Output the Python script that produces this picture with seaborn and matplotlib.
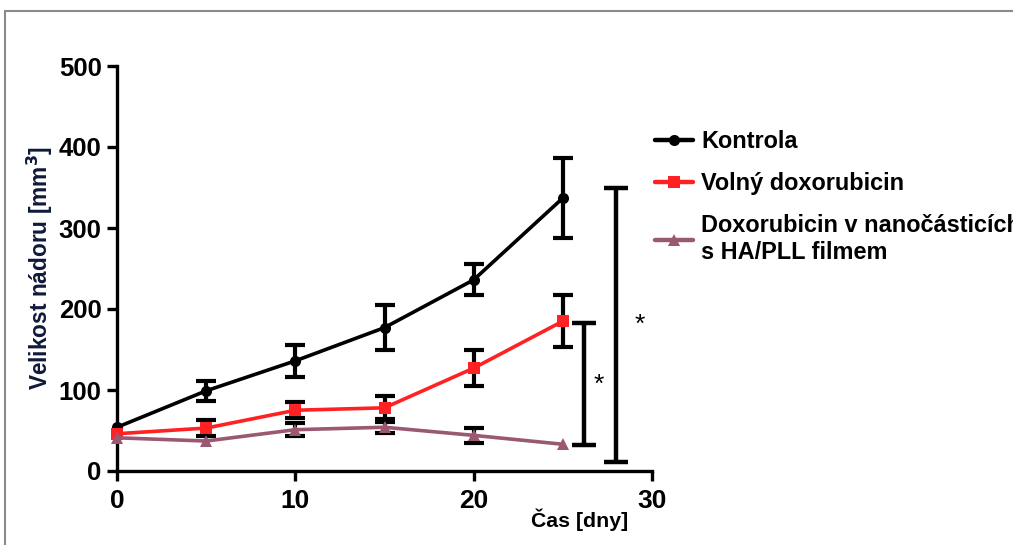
import numpy as np
import pandas as pd
import seaborn as sns
import matplotlib.pyplot as plt
from matplotlib.lines import Line2D

# Tumour volume over time (mean ± error)
days = [0, 5, 10, 15, 20, 25]
kontrola = [54, 99, 136, 177, 236, 337]
kontrola_err = [0, 12, 20, 28, 19, 49]
volny = [46, 53, 75, 78, 127, 185]
volny_err = [0, 10, 10, 14, 22, 32]
nano = [41, 37, 51, 54, 44, 33]
nano_err = [0, 0, 8, 7, 9, 0]

series_names = ["Kontrola", "Volný doxorubicin",
                "Doxorubicin v nanočásticích\ns HA/PLL filmem"]
series_colors = ["#000000", "#ff2222", "#9a5872"]
series_markers = ["o", "s", "^"]

# Significance brackets
sig_x = [26.2, 28.0]
sig_low = [32, 11]
sig_high = [183, 349]
star_x = [27.0, 29.3]
star_y = [106, 181]

x_ticks = [0, 10, 20, 30]
y_ticks = [0, 100, 200, 300, 400, 500]

df = pd.DataFrame({
    "day": days * 3,
    "volume": kontrola + volny + nano,
    "group": [series_names[0]] * 6 + [series_names[1]] * 6 + [series_names[2]] * 6,
})

sns.set_theme(style="white")
plt.rcParams["font.family"] = ["Liberation Sans", "DejaVu Sans"]
plt.rcParams["font.weight"] = "bold"
plt.rcParams["text.color"] = "black"

fig = plt.figure(figsize=(10.13, 5.45), dpi=100)
ax = fig.add_axes([117 / 1013, 1 - 471 / 545, 535 / 1013, 405 / 545])

# error bars underneath the lines (only where an error was measured)
for y, e in [(kontrola, kontrola_err), (volny, volny_err), (nano, nano_err)]:
    x_arr, y_arr, e_arr = np.array(days), np.array(y), np.array(e)
    keep = e_arr > 0
    ax.errorbar(x_arr[keep], y_arr[keep], yerr=e_arr[keep], fmt="none",
                ecolor="black", elinewidth=3, capsize=7, capthick=3,
                zorder=1, clip_on=False)

sns.lineplot(data=df, x="day", y="volume", hue="group", style="group",
             palette=dict(zip(series_names, series_colors)),
             markers=dict(zip(series_names, series_markers)), dashes=False,
             linewidth=2.6, markersize=8, markeredgewidth=0, ax=ax,
             legend=False, zorder=3)
for ln in ax.lines:
    ln.set_clip_on(False)

# significance brackets and stars
ax.errorbar(sig_x, [(a + b) / 2 for a, b in zip(sig_low, sig_high)],
            yerr=[(b - a) / 2 for a, b in zip(sig_low, sig_high)],
            fmt="none", ecolor="black", elinewidth=3.2, capsize=8.5,
            capthick=3.2, clip_on=False)
for sx, sy in zip(star_x, star_y):
    ax.text(sx, sy, "*", fontsize=19, fontweight="normal", ha="center",
            va="center", clip_on=False)

ax.set_xlim(0, 30)
ax.set_ylim(0, 500)
ax.set_xticks(x_ticks)
ax.set_yticks(y_ticks)
ax.set_xticklabels([str(t) for t in x_ticks], fontsize=19, fontweight="bold")
ax.set_yticklabels([str(t) for t in y_ticks], fontsize=18.5, fontweight="bold")

sns.despine(ax=ax)
for side in ["left", "bottom"]:
    ax.spines[side].set_linewidth(2.4)
    ax.spines[side].set_color("black")
ax.tick_params(axis="both", direction="out", length=7, width=2.4,
               color="black", labelcolor="black", left=True, bottom=True,
               pad=4)
ax.tick_params(axis="x", pad=6)

ax.set_ylabel("Velikost nádoru [mm$^\\mathbf{3}$]", fontsize=16.3,
              fontweight="bold", color="#0f1a3a", labelpad=3)
ax.set_xlabel("Čas [dny]", fontsize=15.3, fontweight="bold", color="black")
ax.xaxis.set_label_coords(0.865, -0.092)

handles = [Line2D([0], [0], color=c, marker=m, lw=3.2, markersize=8,
                  markeredgewidth=0)
           for c, m in zip(series_colors, series_markers)]
leg = fig.legend(handles, series_names, loc="upper left",
                 bbox_to_anchor=(655 / 1013, 1 - 130 / 545), frameon=False,
                 prop={"weight": "bold", "size": 16.9}, handlelength=1.62,
                 handletextpad=0.36, labelspacing=0.8, borderpad=0,
                 borderaxespad=0)
for t in leg.get_texts():
    t.set_linespacing(1.25)

# outer frame
fig.add_artist(Line2D([5 / 1013, 5 / 1013], [0, 1 - 11 / 545],
                      transform=fig.transFigure, color="#8a8a8a", lw=1.5))
fig.add_artist(Line2D([5 / 1013, 1], [1 - 11 / 545, 1 - 11 / 545],
                      transform=fig.transFigure, color="#8a8a8a", lw=1.5))

fig.savefig("out.png", dpi=100)
